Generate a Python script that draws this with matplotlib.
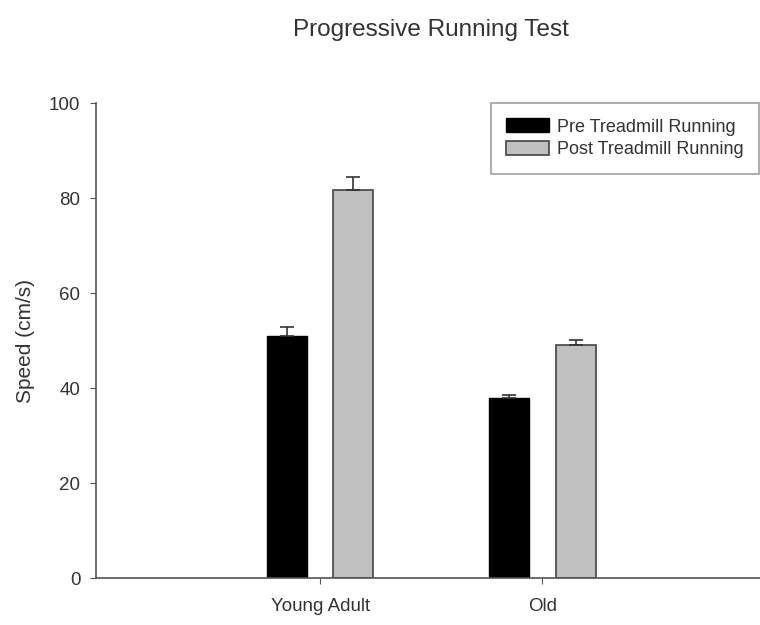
import numpy as np
import matplotlib.pyplot as plt

plt.rcParams['font.family'] = ['Liberation Sans', 'DejaVu Sans']

# data
groups = ["Young Adult", "Old"]
preValues = [51.0, 37.9]
postValues = [81.8, 49.0]
preErr = [1.8, 0.6]
postErr = [2.6, 1.2]
seriesNames = ["Pre Treadmill Running", "Post Treadmill Running"]
yTicks = [0, 20, 40, 60, 80, 100]


def plotBars():
    """Grouped bar chart with upward error bars"""
    fig = plt.figure(figsize=(7.6, 6.25), dpi=100)
    ax = fig.add_axes([0.126, 0.075, 0.874, 0.76])

    x = np.arange(len(groups))
    width = 0.18
    offset = 0.15
    errStyle = dict(ecolor="#333333", elinewidth=1.2, capsize=5, capthick=1.2)

    ax.bar(x - offset, preValues, width, color="black", edgecolor="black",
           yerr=[np.zeros(len(preErr)), preErr], error_kw=errStyle,
           label=seriesNames[0])
    ax.bar(x + offset, postValues, width, color="#c0c0c0", edgecolor="#444444",
           linewidth=1.2, yerr=[np.zeros(len(postErr)), postErr],
           error_kw=errStyle, label=seriesNames[1])

    #Axes styling
    ax.set_xlim(-1.01, 1.98)
    ax.set_ylim(0, 100)
    ax.set_yticks(yTicks)
    ax.set_xticks(x)
    ax.set_xticklabels(groups)
    for side in ["top", "right"]:
        ax.spines[side].set_visible(False)
    for side in ["left", "bottom"]:
        ax.spines[side].set_color("#555555")
        ax.spines[side].set_linewidth(1.2)
    ax.tick_params(axis="both", colors="#555555", labelcolor="#333333",
                   labelsize=13.5, length=4)
    ax.tick_params(axis="x", pad=10)
    ax.tick_params(axis="y", pad=7)
    ax.set_ylabel("Speed (cm/s)", fontsize=15, color="#333333", labelpad=10)

    fig.suptitle("Progressive Running Test", x=0.567, y=0.97,
                 fontsize=17.5, color="#333333")

    leg = ax.legend(loc="upper right", bbox_to_anchor=(0.998, 1.0),
                    fontsize=13, frameon=True, fancybox=False,
                    handlelength=2.4, handleheight=0.8, handletextpad=0.4,
                    borderpad=0.85, borderaxespad=0.0, labelspacing=0.3,
                    edgecolor="#888888")
    leg.get_frame().set_linewidth(1.2)
    for text in leg.get_texts():
        text.set_color("#333333")

    fig.savefig("out.png", dpi=100)


def main():
    plotBars()


if __name__ == '__main__':
    main()
